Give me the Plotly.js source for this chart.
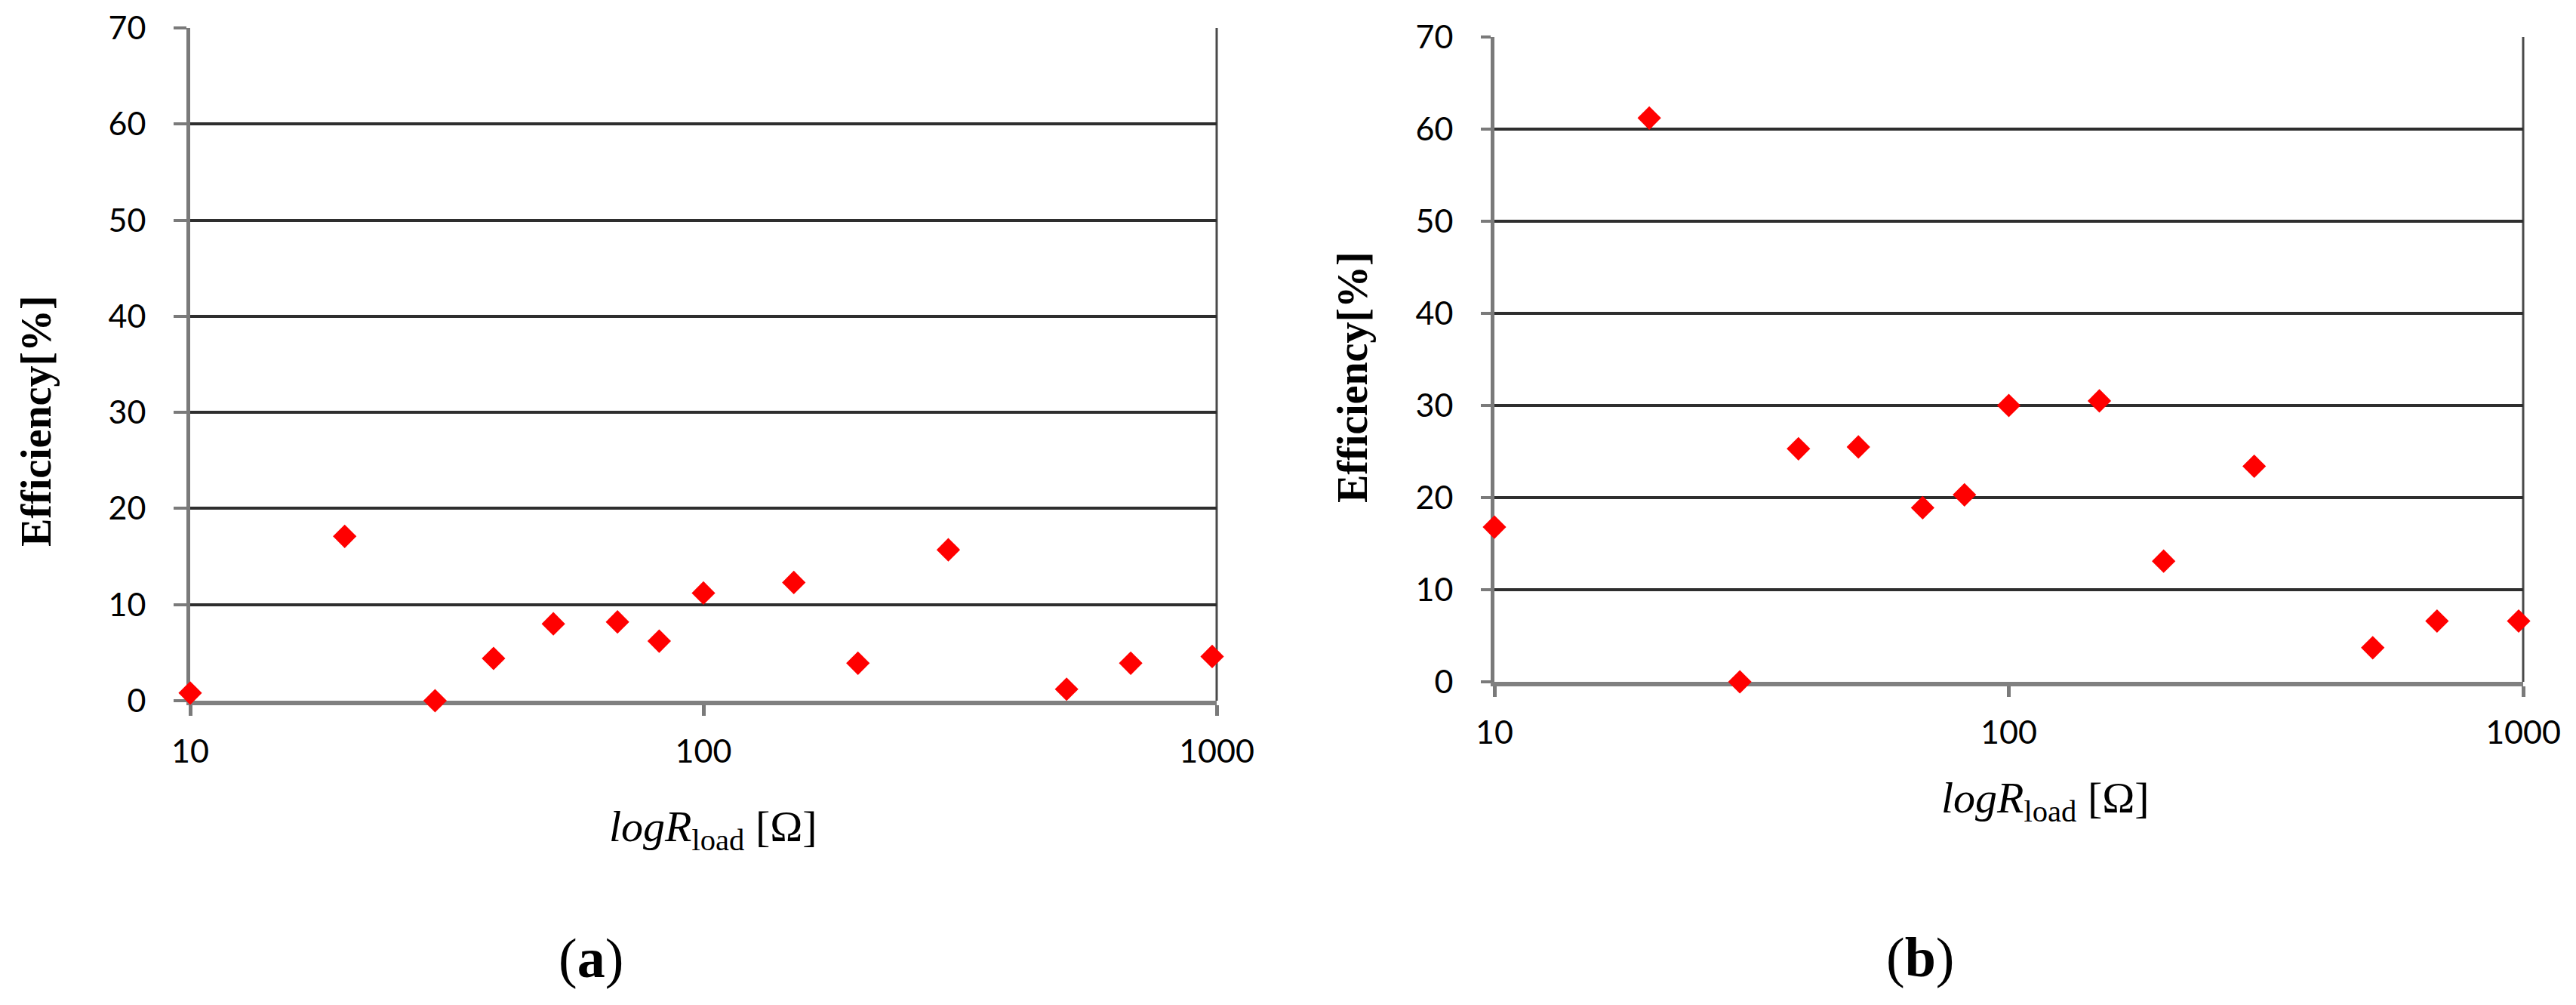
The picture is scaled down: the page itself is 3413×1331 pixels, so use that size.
<!DOCTYPE html>
<html>
<head>
<meta charset="utf-8">
<script src="https://cdn.plot.ly/plotly-3.0.1.min.js"></script>
<style>html,body{margin:0;padding:0;background:#fff;} #chart{width:3413px;height:1331px;}</style>
</head>
<body>
<div id="chart"></div>
<script>
// ---- data ----
const loadResistance = [10, 20, 30, 39, 51, 68, 82, 100, 150, 200, 300, 510, 680, 980];
const efficiencyA = [0.8, 17.1, 0, 4.4, 8.0, 8.2, 6.2, 11.2, 12.3, 3.9, 15.7, 1.2, 3.9, 4.6];
const efficiencyB = [16.8, 61.2, 0, 25.3, 25.5, 18.9, 20.3, 30.0, 30.5, 13.1, 23.4, 3.7, 6.6, 6.6];
const yTickVals = [0, 10, 20, 30, 40, 50, 60, 70];
const xTickVals = [10, 100, 1000];
const xTickText = ['10', '100', '1000'];
const yTitle = 'Efficiency[%]';
const xTitle = '<i>logR</i><sub>load</sub> [Ω]';
const panelLabels = ['(<b>a</b>)', '(<b>b</b>)'];

// ---- layout helpers ----
const W = 3413, H = 1331;
const px = v => v / W;
const py = v => 1 - v / H;

const tickFont = {family: 'Lato, "Open Sans", sans-serif', size: 43, color: '#000'};
const serif = '"Liberation Serif", "DejaVu Serif", serif';

function xAxis(domain, anchor) {
  return {
    type: 'log', domain: domain, anchor: anchor, range: [1, 3],
    tickvals: xTickVals, ticktext: xTickText,
    ticks: 'outside', ticklen: 14, tickwidth: 5, tickcolor: '#7a7a7a',
    ticklabelstandoff: 10,
    showgrid: false, zeroline: false,
    showline: true, linecolor: '#808080', linewidth: 6,
    tickfont: tickFont, layer: 'below traces', fixedrange: true
  };
}
function yAxis(domain, anchor, ticklen, standoff) {
  return {
    domain: domain, anchor: anchor, range: [0, 70],
    tickvals: yTickVals,
    ticks: 'outside', ticklen: ticklen, tickwidth: 4, tickcolor: '#7a7a7a',
    ticklabelstandoff: standoff,
    showgrid: true, gridcolor: '#2e2e2e', gridwidth: 4,
    zeroline: false,
    showline: true, linecolor: '#7a7a7a', linewidth: 5,
    tickfont: tickFont, layer: 'below traces', fixedrange: true
  };
}

const marker = {symbol: 'diamond', color: '#ff0000', size: 24, line: {width: 0}};

const traces = [
  {x: loadResistance, y: efficiencyA, type: 'scatter', mode: 'markers', marker: marker,
   xaxis: 'x', yaxis: 'y', cliponaxis: false},
  {x: loadResistance, y: efficiencyB, type: 'scatter', mode: 'markers', marker: marker,
   xaxis: 'x2', yaxis: 'y2', cliponaxis: false}
];

const layout = {
  width: W, height: H,
  margin: {l: 0, r: 0, t: 0, b: 0, pad: 0},
  paper_bgcolor: '#fff', plot_bgcolor: '#fff',
  showlegend: false,
  xaxis: xAxis([px(252), px(1612)], 'y'),
  yaxis: yAxis([py(928), py(37)], 'x', 17, 28),
  xaxis2: xAxis([px(1980), px(3343)], 'y2'),
  yaxis2: yAxis([py(903), py(49)], 'x2', 13, 28),
  shapes: [
    {type: 'line', xref: 'x domain', yref: 'y domain', x0: 1, x1: 1, y0: 0, y1: 1,
     line: {color: '#4a4a4a', width: 3}, layer: 'below'},
    {type: 'line', xref: 'x2 domain', yref: 'y2 domain', x0: 1, x1: 1, y0: 0, y1: 1,
     line: {color: '#4a4a4a', width: 3}, layer: 'below'}
  ],
  annotations: [
    {text: '<b>' + yTitle + '</b>', textangle: -90, xref: 'paper', yref: 'paper',
     x: px(48), y: py(558), xanchor: 'center', yanchor: 'middle', showarrow: false,
     font: {family: serif, size: 56, color: '#000'}},
    {text: '<b>' + yTitle + '</b>', textangle: -90, xref: 'paper', yref: 'paper',
     x: px(1792), y: py(500), xanchor: 'center', yanchor: 'middle', showarrow: false,
     font: {family: serif, size: 56, color: '#000'}},
    {text: xTitle, xref: 'paper', yref: 'paper',
     x: px(945), y: py(1098), xanchor: 'center', yanchor: 'middle', showarrow: false,
     font: {family: serif, size: 58, color: '#000'}},
    {text: xTitle, xref: 'paper', yref: 'paper',
     x: px(2710), y: py(1060), xanchor: 'center', yanchor: 'middle', showarrow: false,
     font: {family: serif, size: 58, color: '#000'}},
    {text: panelLabels[0], xref: 'paper', yref: 'paper',
     x: px(783), y: py(1269), xanchor: 'center', yanchor: 'middle', showarrow: false,
     font: {family: serif, size: 74, color: '#000'}},
    {text: panelLabels[1], xref: 'paper', yref: 'paper',
     x: px(2544), y: py(1268), xanchor: 'center', yanchor: 'middle', showarrow: false,
     font: {family: serif, size: 74, color: '#000'}}
  ]
};

Plotly.newPlot('chart', traces, layout, {displayModeBar: false, staticPlot: true});
</script>
</body>
</html>
